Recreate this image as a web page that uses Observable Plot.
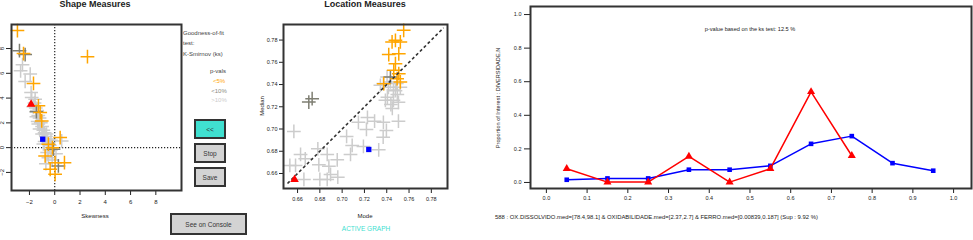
<!DOCTYPE html>
<html><head><meta charset="utf-8">
<script src="https://cdn.jsdelivr.net/npm/d3@7"></script>
<script src="https://cdn.jsdelivr.net/npm/@observablehq/plot@0.6"></script>
<style>
body{margin:0;background:#fff;}
#wrap{position:relative;width:973px;height:240px;overflow:hidden;font-family:"Liberation Sans",Arial,sans-serif;background:#fff;color:#222}
.t{position:absolute;white-space:nowrap;line-height:1;}
.btn{position:absolute;box-sizing:border-box;border:2px solid #333;background:#d3d3d3;display:flex;align-items:center;justify-content:center;font-size:6.5px;color:#333;}
.p{position:absolute;top:0}
</style></head><body><div id="wrap"></div>
<script>
// ---------- Panel 1: Shape Measures ----------
const shapeSkew = [-2.55,-1.94,-2.34,-1.87,-1.82,-1.42,0.55,-0.50,-1.6,-1.5,-1.4,-1.7,-1.3,-1.2,-1.35,-1.1,-1.0,-1.2,-0.9,-0.8,-1.0,-0.7,-0.6,-0.8,-0.5,-0.4,-1.3,-1.45,-0.65,-0.3,-0.9,-0.3,-0.6,-0.2,-0.7,0.1,-2.7,-1.55,
  -2.79,-2.34,-0.10,0.29,-1.45,
  -2.95,2.59,-2.47,-1.68,-1.29,-1.15,-1.03,0.43,-0.50,-0.18,-0.76,0.03,0.77,-0.36,0.03];
const shapeKurt = [6.70,5.94,5.34,4.45,4.05,2.97,0.54,-0.81,3.6,3.2,3.0,3.3,2.6,2.4,2.1,2.0,1.7,1.5,1.4,1.2,1.1,0.9,0.7,0.5,0.4,0.2,1.9,2.5,1.1,0.6,0.3,-0.2,-0.4,-1.0,-1.3,-0.5,6.2,3.9,
  7.83,7.51,-0.13,-1.48,2.9,
  9.45,7.34,7.59,5.18,3.38,2.83,2.16,0.81,0.28,0.0,-0.67,-1.21,-1.21,-1.75,-2.15];
const shapeGroup = [...Array(38).fill(">10%"), ...Array(5).fill("<10%"), ...Array(15).fill("<5%")];
const skewTicks = [-2, 0, 2, 4, 6, 8];
const kurtTicks = [-2, 0, 2, 4, 6, 8];
const shapeRed = [-1.87, 3.51];
const shapeBlue = [-0.95, 0.68];

// ---------- Panel 2: Location Measures ----------
const locMode = [0.737,0.7415,0.746,0.7406,0.746,0.7505,0.745,0.7437,0.7495,0.7227,0.7146,0.7291,0.737,0.7505,0.7218,0.7397,0.7368,0.704,0.6567,0.709,0.7191,0.7328,0.6782,0.6866,0.7075,0.6627,0.6669,0.6956,0.6531,0.6582,0.6791,0.6881,0.6657,0.68,0.6866,0.6896,0.6961,0.7343,0.7403,0.7433,0.749,0.7522,0.7478,0.7388,
  0.6701,0.6731,0.7433,
  0.7552,0.7478,0.7522,0.7448,0.7418,0.7508,0.7478,0.7508,0.7522,0.7373,0.7493,0.7463];
const locMedian = [0.741,0.7375,0.735,0.7285,0.7258,0.724,0.7185,0.722,0.731,0.7104,0.706,0.707,0.706,0.707,0.6996,0.6987,0.6927,0.6933,0.6978,0.6852,0.6843,0.6813,0.6822,0.6771,0.6771,0.6771,0.6732,0.6723,0.6672,0.6672,0.6678,0.6666,0.6546,0.6546,0.6546,0.6591,0.6567,0.7393,0.7468,0.7423,0.741,0.7375,0.7345,0.7258,
  0.7242,0.7273,0.7468,
  0.7888,0.7798,0.7783,0.7783,0.767,0.7676,0.7588,0.7498,0.7423,0.7408,0.7453,0.7528];
const locGroup = [...Array(44).fill(">10%"), ...Array(3).fill("<10%"), ...Array(12).fill("<5%")];
const locTicks = [0.66, 0.68, 0.70, 0.72, 0.74, 0.76, 0.78];
const diagEnds = [0.651, 0.791];
const locRed = [0.6573, 0.6546];
const locBlue = [0.7239, 0.6816];

// ---------- Panel 3: proportion of interest ----------
const binMid = [0.05, 0.15, 0.25, 0.35, 0.45, 0.55, 0.65, 0.75, 0.85, 0.95];
const blueProp = [0.016, 0.024, 0.024, 0.076, 0.076, 0.099, 0.23, 0.276, 0.115, 0.07];
const redProp = [0.082, 0.002, 0.002, 0.155, 0.002, 0.082, 0.54, 0.159];
const propXTicks = [0, 0.1, 0.2, 0.3, 0.4, 0.5, 0.6, 0.7, 0.8, 0.9, 1.0];
const propYTicks = [0, 0.2, 0.4, 0.6, 0.8, 1.0];

const groups = ["<5%", "<10%", ">10%"];
const groupColors = ["#FFA500", "#7F7F73", "#CCCCCC"];
const FONT = "'Liberation Sans', Arial, sans-serif";
const wrap = document.getElementById("wrap");

function place(svg, left) { svg.classList.add("p"); svg.style.left = left + "px"; wrap.appendChild(svg); }
function text(str, x, y, o = {}) {
  const d = document.createElement("div");
  d.className = "t"; d.textContent = str;
  d.style.left = x + "px"; d.style.top = y + "px";
  d.style.fontSize = (o.size || 6) + "px";
  d.style.color = o.color || "#222";
  if (o.bold) d.style.fontWeight = "bold";
  const tx = o.anchor === "start" ? "0" : "-50%";
  d.style.transform = `translate(${tx},-50%)` + (o.rotate ? ` rotate(${o.rotate}deg)` : "");
  wrap.appendChild(d);
}
function button(label, x, y, w, h, bg) {
  const b = document.createElement("div");
  b.className = "btn"; b.textContent = label;
  Object.assign(b.style, {left: x + "px", top: y + "px", width: w + "px", height: h + "px", background: bg});
  wrap.appendChild(b);
}

// Panel 1
const shapeData = shapeSkew.map((s, i) => ({s, k: shapeKurt[i], g: shapeGroup[i]}))
  .sort((a, b) => groups.indexOf(b.g) - groups.indexOf(a.g));
place(Plot.plot({
  width: 250, height: 240,
  marginLeft: 11, marginRight: 69, marginTop: 24, marginBottom: 50,
  style: {fontFamily: FONT, fontSize: "6px", color: "#222", background: "transparent"},
  x: {domain: [-3.42, 10.03], ticks: skewTicks, tickSize: 5, tickPadding: 4, label: null},
  y: {domain: [-3.46, 9.94], ticks: kurtTicks, tickSize: 5, tickPadding: 3, tickRotate: -90, label: null},
  color: {domain: groups, range: groupColors},
  marks: [
    Plot.ruleX([0], {stroke: "#222", strokeDasharray: "1.2,1.8", strokeWidth: 1.2}),
    Plot.ruleY([0], {stroke: "#222", strokeDasharray: "1.2,1.8", strokeWidth: 1.2}),
    Plot.dot(shapeData, {x: "s", y: "k", stroke: "g", symbol: "plus", r: 4.5, strokeWidth: 1.5, fill: "none"}),
    Plot.dot([shapeRed], {x: d => d[0], y: d => d[1], symbol: "triangle", fill: "#FF0000", r: 3.2}),
    Plot.dot([shapeBlue], {x: d => d[0], y: d => d[1], symbol: "square", fill: "#0000FF", r: 3}),
    Plot.frame({stroke: "#333", strokeWidth: 2})
  ]
}), 0);

// Panel 2
const locData = locMode.map((m, i) => ({m, md: locMedian[i], g: locGroup[i]}))
  .sort((a, b) => groups.indexOf(b.g) - groups.indexOf(a.g));
place(Plot.plot({
  width: 220, height: 240,
  marginLeft: 33, marginRight: 23, marginTop: 24, marginBottom: 52,
  style: {fontFamily: FONT, fontSize: "5.5px", color: "#222", background: "transparent"},
  x: {domain: [0.6474, 0.7945], ticks: locTicks, tickFormat: ".2f", tickSize: 5, tickPadding: 4, label: null},
  y: {domain: [0.6465, 0.794], ticks: locTicks, tickFormat: ".2f", tickSize: 4, tickPadding: 2, label: null},
  color: {domain: groups, range: groupColors},
  marks: [
    Plot.dot(locData, {x: "m", y: "md", stroke: "g", symbol: "plus", r: 4.5, strokeWidth: 1.5, fill: "none"}),
    Plot.link([diagEnds], {x1: d => d[0], y1: d => d[0], x2: d => d[1], y2: d => d[1], stroke: "#333", strokeWidth: 1.6, strokeDasharray: "3,2.5"}),
    Plot.dot([locRed], {x: d => d[0], y: d => d[1], symbol: "triangle", fill: "#FF0000", r: 3.2}),
    Plot.dot([locBlue], {x: d => d[0], y: d => d[1], symbol: "square", fill: "#0000FF", r: 3}),
    Plot.frame({stroke: "#333", strokeWidth: 2})
  ]
}), 250);

// Panel 3
const blueData = binMid.map((x, i) => ({x, y: blueProp[i]}));
const redData = redProp.map((y, i) => ({x: binMid[i], y}));
place(Plot.plot({
  width: 503, height: 240,
  marginLeft: 60, marginRight: 2, marginTop: 6, marginBottom: 52,
  style: {fontFamily: FONT, fontSize: "5.5px", color: "#222", background: "transparent"},
  x: {domain: [-0.039, 1.044], ticks: propXTicks, tickFormat: ".1f", tickSize: 5, tickPadding: 3, label: null},
  y: {domain: [-0.036, 1.048], ticks: propYTicks, tickFormat: ".1f", tickSize: 6, tickPadding: 3, label: null},
  marks: [
    Plot.line(blueData, {x: "x", y: "y", stroke: "#0000FF", strokeWidth: 1.5}),
    Plot.dot(blueData, {x: "x", y: "y", symbol: "square", fill: "#0000FF", r: 2.6}),
    Plot.line(redData, {x: "x", y: "y", stroke: "#FF0000", strokeWidth: 1.5}),
    Plot.dot(redData, {x: "x", y: "y", symbol: "triangle", fill: "#FF0000", r: 3}),
    Plot.frame({stroke: "#333", strokeWidth: 2})
  ]
}), 470);

// Text
text("Shape Measures", 95, 4, {size: 9, bold: true});
text("Skewness", 95, 216, {size: 6});
text("Goodness-of-fit", 183, 33, {size: 6, anchor: "start", color: "#444"});
text("test:", 183, 43, {size: 6, anchor: "start", color: "#444"});
text("K-Smirnov (ks)", 183, 54, {size: 6, anchor: "start", color: "#444"});
text("p-vals", 218, 71, {size: 6, color: "#444"});
text("<5%", 219, 81, {size: 6, color: "#FFA500"});
text("<10%", 219, 91, {size: 6, color: "#8a8a80"});
text(">10%", 219, 100, {size: 6, color: "#cccccc"});
button("<<", 194, 119, 32, 20, "#40E0D0");
button("Stop", 194, 143, 32, 20, "#d3d3d3");
button("Save", 194, 167, 32, 20, "#d3d3d3");
button("See on Console", 170, 213, 77, 22, "#d3d3d3");

text("Location Measures", 365, 4, {size: 9, bold: true});
text("Mode", 365, 216, {size: 6});
text("Median", 262, 106, {size: 6, rotate: -90});
text("ACTIVE GRAPH", 366, 229, {size: 6.5, color: "#40E0D0"});

text("p-value based on the ks test:  12.5 %", 750, 30, {size: 5.6});
text("Proportion of Interest : DIVERSIDADE.N", 499, 98, {size: 5.6, rotate: -90});
text("588 : OX.DISSOLVIDO.med=[78.4,98.1] & OXIDABILIDADE.med=[2.37,2.7] & FERRO.med=[0.00839,0.187] (Sup : 9.92 %)", 495, 218, {size: 5.9, anchor: "start"});
</script></body></html>
